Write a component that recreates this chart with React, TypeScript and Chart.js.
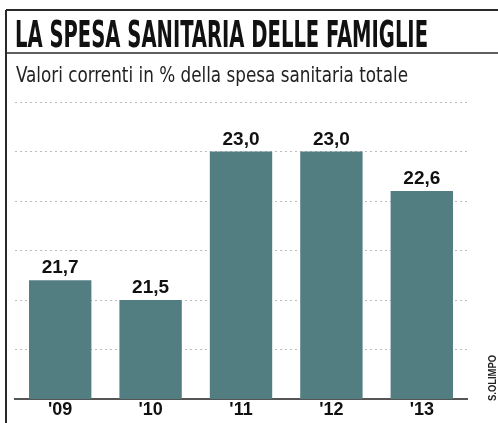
import React, { useEffect, useRef } from "react";
import { Chart, registerables } from "chart.js";

Chart.register(...registerables);

const years = ["'09", "'10", "'11", "'12", "'13"];
const values = [21.7, 21.5, 23.0, 23.0, 22.6];
const valueLabels = ["21,7", "21,5", "23,0", "23,0", "22,6"];
const titleText = "LA SPESA SANITARIA DELLE FAMIGLIE";
const subtitleText = "Valori correnti in % della spesa sanitaria totale";
const creditText = "S.OLIMPO";

const W = 498;
const H = 423;

function fitText(ctx: CanvasRenderingContext2D, text: string, x: number, y: number, targetW: number) {
  const m = ctx.measureText(text).width;
  ctx.save();
  ctx.translate(x, y);
  ctx.scale(targetW / m, 1);
  ctx.fillText(text, 0, 0);
  ctx.restore();
}

const decorPlugin = {
  id: "decor",
  afterDraw(chart: any) {
    const ctx: CanvasRenderingContext2D = chart.ctx;
    ctx.save();
    // frame lines
    ctx.strokeStyle = "#2a2a2a";
    ctx.lineWidth = 2;
    ctx.beginPath();
    ctx.moveTo(6, 10);
    ctx.lineTo(W, 10);
    ctx.moveTo(6, 10);
    ctx.lineTo(6, H);
    ctx.stroke();
    ctx.lineWidth = 1.5;
    ctx.beginPath();
    ctx.moveTo(6, 53);
    ctx.lineTo(W, 53);
    ctx.stroke();

    // title
    ctx.fillStyle = "#111";
    ctx.textBaseline = "alphabetic";
    ctx.textAlign = "left";
    ctx.font = "bold 37px 'Liberation Sans Narrow', 'DejaVu Sans Condensed', 'Liberation Sans', sans-serif";
    fitText(ctx, titleText, 15, 47, 413);
    // subtitle
    ctx.fillStyle = "#222";
    ctx.font = "21px 'Liberation Sans Narrow', 'DejaVu Sans Condensed', 'Liberation Sans', sans-serif";
    fitText(ctx, subtitleText, 16, 82, 392);

    // value labels
    const meta = chart.getDatasetMeta(0);
    ctx.fillStyle = "#111";
    ctx.font = "bold 19px 'Liberation Sans', Arial, sans-serif";
    ctx.textAlign = "center";
    meta.data.forEach((el: any, i: number) => {
      ctx.fillText(valueLabels[i], el.x, el.y - 7);
    });

    // credit (vertical)
    ctx.save();
    ctx.translate(496, 401);
    ctx.rotate(-Math.PI / 2);
    ctx.font = "bold 10px 'Liberation Sans', sans-serif";
    ctx.textAlign = "left";
    ctx.fillStyle = "#222";
    fitText(ctx, creditText, 0, 0, 46);
    ctx.restore();
    ctx.restore();
  },
};

export default function App() {
  const ref = useRef<HTMLCanvasElement | null>(null);
  useEffect(() => {
    document.body.style.margin = "0";
    document.body.style.background = "#fff";
    if (!ref.current) return;
    const chart = new Chart(ref.current, {
      type: "bar",
      data: {
        labels: years,
        datasets: [
          {
            data: values,
            backgroundColor: "#527e82",
            borderWidth: 0,
            barPercentage: 0.69,
            categoryPercentage: 1,
          },
        ],
      },
      options: {
        responsive: false,
        animation: false,
        layout: { padding: { left: 15, right: 31, top: 102, bottom: 2 } },
        plugins: { legend: { display: false }, tooltip: { enabled: false }, title: { display: false } },
        scales: {
          x: {
            grid: { display: false, drawTicks: false },
            border: { display: true, color: "#555", width: 2 },
            ticks: {
              color: "#111",
              padding: 2,
              font: { family: "'Liberation Sans', Arial, sans-serif", size: 18, weight: "bold", lineHeight: 1 },
            },
          },
          y: {
            min: 20.5,
            max: 23.5,
            ticks: { display: false, stepSize: 0.5 },
            grid: { color: "#bdbdbd", lineWidth: 1, drawTicks: false },
            border: { display: false, dash: [2, 3] },
          },
        },
      },
      plugins: [decorPlugin],
    });
    return () => chart.destroy();
  }, []);
  return (
    <div style={{ width: W, height: H, background: "#fff" }}>
      <canvas ref={ref} width={W} height={H} style={{ display: "block", width: W, height: H }} />
    </div>
  );
}
